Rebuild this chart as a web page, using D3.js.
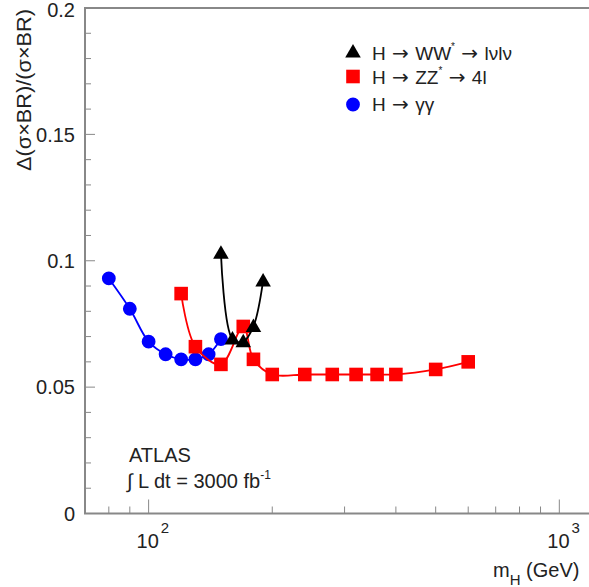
<!DOCTYPE html>
<html>
<head>
<meta charset="utf-8">
<script src="https://cdn.jsdelivr.net/npm/d3@7"></script>
<style>
html,body{margin:0;padding:0;background:#fff;}
svg{display:block;}
text{font-family:"Liberation Sans",Arial,Helvetica,sans-serif;fill:#222;}
.arr{font-family:"DejaVu Sans",sans-serif;}
</style>
</head>
<body>
<svg id="c" width="589" height="587"></svg>
<script>
// ---- data ----
const massGG = [80, 90, 100, 110, 120, 130, 140, 150];
const valGG  = [0.093, 0.081, 0.068, 0.063, 0.061, 0.061, 0.063, 0.069];
const massZZ = [120, 130, 150, 170, 180, 200, 240, 280, 320, 360, 400, 500, 600];
const valZZ  = [0.087, 0.066, 0.059, 0.074, 0.061, 0.055, 0.055, 0.055, 0.055, 0.055, 0.055, 0.057, 0.060];
const massWW = [150, 160, 170, 180, 190];
const valWW  = [0.103, 0.069, 0.068, 0.074, 0.092];
const yTickValues = [0, 0.05, 0.1, 0.15, 0.2];
const yTickLabels = ["0", "0.05", "0.1", "0.15", "0.2"];
const xMajorTicks = [100, 1000];
const xMajorExp = ["2", "3"];
const xMinorTicks = [70, 80, 90, 200, 300, 400, 500, 600, 700, 800, 900];
const legendItems = [
  {name: "WW", sym: "triangle", color: "#000"},
  {name: "ZZ", sym: "square", color: "#f00"},
  {name: "GG", sym: "circle", color: "#00f"}
];

(function(){
const svg = d3.select("#c");
const pLeft = 85, pTop = 8, pBottom = 513.5, decade = 410.7;
const x = d3.scaleLog().domain([70, 1000]).range([pLeft, pLeft + Math.log10(1000/70)*decade]);
const y = d3.scaleLinear().domain([0, 0.2]).range([pBottom, pTop]);
const axisColor = "#888";

// frame
svg.append("line").attr("x1", pLeft).attr("x2", pLeft).attr("y1", pTop).attr("y2", pBottom)
  .attr("stroke", axisColor).attr("stroke-width", 2);
svg.append("line").attr("x1", pLeft-1).attr("x2", 589).attr("y1", pBottom).attr("y2", pBottom)
  .attr("stroke", axisColor).attr("stroke-width", 2);
svg.append("line").attr("x1", pLeft-1).attr("x2", 589).attr("y1", pTop).attr("y2", pTop)
  .attr("stroke", axisColor).attr("stroke-width", 2);

// y ticks
const yMinor = d3.range(0, 0.2001, 0.01);
svg.append("g").selectAll("line").data(yMinor).join("line")
  .attr("x1", pLeft).attr("x2", d => (Math.abs(d/0.05 - Math.round(d/0.05)) < 1e-6) ? pLeft+10 : pLeft+6)
  .attr("y1", d => y(d)).attr("y2", d => y(d))
  .attr("stroke", axisColor).attr("stroke-width", 1);
svg.append("g").selectAll("text").data(yTickValues).join("text")
  .attr("x", 75).attr("y", d => y(d)).attr("dy", d => d === 0.2 ? "0.45em" : "0.36em")
  .attr("text-anchor", "end").attr("font-size", 20)
  .text((d,i) => yTickLabels[i]);

// x ticks
svg.append("g").selectAll("line").data(xMinorTicks).join("line")
  .attr("x1", d => x(d)).attr("x2", d => x(d)).attr("y1", pBottom).attr("y2", pBottom-7)
  .attr("stroke", axisColor).attr("stroke-width", 1);
svg.append("g").selectAll("line").data(xMajorTicks).join("line")
  .attr("x1", d => x(d)).attr("x2", d => x(d)).attr("y1", pBottom).attr("y2", pBottom-14)
  .attr("stroke", axisColor).attr("stroke-width", 1);
xMajorTicks.forEach((v, i) => {
  const t = svg.append("text").attr("x", x(v) - 12).attr("y", 548).attr("font-size", 20);
  t.append("tspan").text("10");
  t.append("tspan").attr("dy", -15).attr("dx", 2).attr("font-size", 15).text(xMajorExp[i]);
});

// axis titles
const xt = svg.append("text").attr("x", 493).attr("y", 577).attr("font-size", 20);
xt.append("tspan").text("m");
xt.append("tspan").attr("dy", 8).attr("font-size", 15).text("H");
xt.append("tspan").attr("dy", -8).text(" (GeV)");

svg.append("text").attr("transform", "translate(31,9) rotate(-90)")
  .attr("text-anchor", "end").attr("font-size", 20)
  .attr("textLength", 162).attr("lengthAdjust", "spacingAndGlyphs")
  .text("Δ(σ×BR)/(σ×BR)");

// ATLAS label
svg.append("text").attr("x", 129).attr("y", 462).attr("font-size", 20).text("ATLAS");
const lum = svg.append("text").attr("x", 127).attr("y", 488).attr("font-size", 20);
lum.append("tspan").text("∫ L dt = 3000 fb");
lum.append("tspan").attr("dy", -9).attr("font-size", 12).text("-1");

// series
const line = d3.line().x(d => x(d[0])).y(d => y(d[1])).curve(d3.curveCatmullRom.alpha(0.5));
function markerPath(sym, size) {
  const s = sym === "triangle" ? d3.symbolTriangle : sym === "square" ? d3.symbolSquare : d3.symbolCircle;
  return d3.symbol().type(s).size(size)();
}
const sizes = {triangle: 105, square: 185, circle: 150};
function drawSeries(mass, vals, color, sym) {
  const pts = mass.map((m, i) => [m, vals[i]]);
  svg.append("path").datum(pts).attr("d", line).attr("fill", "none")
    .attr("stroke", color).attr("stroke-width", 1.8);
  svg.append("g").selectAll("path").data(pts).join("path")
    .attr("d", markerPath(sym, sizes[sym]))
    .attr("transform", d => `translate(${x(d[0])},${y(d[1]) + (sym === "triangle" ? 1 : 0)})`)
    .attr("fill", color);
}
drawSeries(massGG, valGG, "#00f", "circle");
drawSeries(massZZ, valZZ, "#f00", "square");
drawSeries(massWW, valWW, "#000", "triangle");

// legend
const legY = [53, 76.5, 104.5];
legendItems.forEach((it, i) => {
  svg.append("path").attr("d", markerPath(it.sym, sizes[it.sym]))
    .attr("transform", `translate(353,${legY[i]})`).attr("fill", it.color);
});
function arrow(t, dy) {
  const a = t.append("tspan").attr("class", "arr").attr("font-size", 20).text(" → ");
  if (dy) a.attr("dy", dy);
}
const l1 = svg.append("text").attr("x", 372).attr("y", 60).attr("font-size", 19);
l1.append("tspan").text("H");
arrow(l1);
l1.append("tspan").text("WW");
l1.append("tspan").attr("dy", -10).attr("font-size", 10).text("*");
arrow(l1, 10);
l1.append("tspan").text("lνlν");
const l2 = svg.append("text").attr("x", 372).attr("y", 84).attr("font-size", 19);
l2.append("tspan").text("H");
arrow(l2);
l2.append("tspan").text("ZZ");
l2.append("tspan").attr("dy", -10).attr("font-size", 10).text("*");
arrow(l2, 10);
l2.append("tspan").text("4l");
const l3 = svg.append("text").attr("x", 372).attr("y", 111).attr("font-size", 19);
l3.append("tspan").text("H");
arrow(l3);
l3.append("tspan").text("γγ");
})();
</script>
</body>
</html>
